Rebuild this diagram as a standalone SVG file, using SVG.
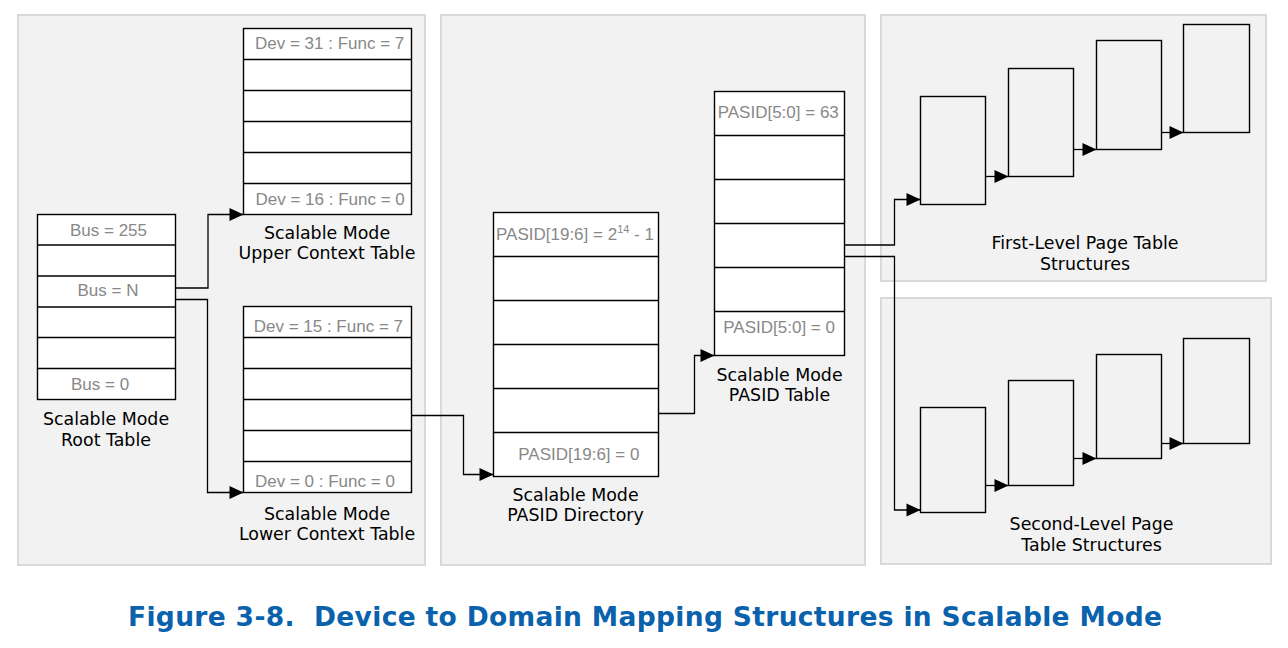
<svg xmlns="http://www.w3.org/2000/svg" width="1288" height="648" viewBox="0 0 1288 648">
<defs>
<marker id="arr" markerUnits="userSpaceOnUse" markerWidth="15" markerHeight="14" refX="14" refY="7" orient="auto" overflow="visible">
<path d="M0,0.5 L14,7 L0,13.5 z" fill="#000"/>
</marker>
<style>
.panel{fill:#f2f2f2;stroke:#d9d9d9;stroke-width:2}
.tbl{fill:#fff;stroke:#000;stroke-width:1.4}
.row{stroke:#000;stroke-width:1.4}
.pg{fill:none;stroke:#000;stroke-width:1.4}
.conn{fill:none;stroke:#000;stroke-width:1.3;marker-end:url(#arr)}
.cell{font-family:"Liberation Sans",Arial,sans-serif;font-size:17px;fill:#888888}
.lbl{font-family:"DejaVu Sans",Verdana,sans-serif;font-size:17.4px;fill:#000;text-anchor:middle}
.title{font-family:"DejaVu Sans",Verdana,sans-serif;font-weight:bold;font-size:26.5px;fill:#0a62ad;white-space:pre}
</style>
</defs>
<rect class="panel" x="18" y="15" width="407" height="550"/>
<rect class="panel" x="441" y="15" width="424" height="550"/>
<rect class="panel" x="881" y="15" width="385" height="266"/>
<rect class="panel" x="881" y="298" width="390" height="266"/>

<g id="root-table">
<rect class="tbl" x="37.5" y="214.5" width="138" height="185"/>
<path class="row" d="M37.5,245H175.5M37.5,276H175.5M37.5,307H175.5M37.5,337.5H175.5M37.5,368.5H175.5"/>
<text class="cell" x="70" y="235.7">Bus = 255</text>
<text class="cell" x="77.5" y="296">Bus = N</text>
<text class="cell" x="71" y="390">Bus = 0</text>
<text class="lbl" x="106" y="425">Scalable Mode</text>
<text class="lbl" x="106" y="446">Root Table</text>
</g>

<g id="upper-context-table">
<rect class="tbl" x="243.5" y="28.5" width="168" height="186"/>
<path class="row" d="M243.5,59.5H411.5M243.5,90.5H411.5M243.5,121.5H411.5M243.5,152.5H411.5M243.5,183.5H411.5"/>
<text class="cell" x="255" y="49.3">Dev = 31 : Func = 7</text>
<text class="cell" x="255.5" y="204.7">Dev = 16 : Func = 0</text>
<text class="lbl" x="327" y="238.7">Scalable Mode</text>
<text class="lbl" x="327" y="259">Upper Context Table</text>
</g>

<g id="lower-context-table">
<rect class="tbl" x="243.5" y="306.5" width="168" height="186"/>
<path class="row" d="M243.5,337.5H411.5M243.5,368.5H411.5M243.5,399.5H411.5M243.5,430.5H411.5M243.5,461.5H411.5"/>
<text class="cell" x="253.7" y="332">Dev = 15 : Func = 7</text>
<text class="cell" x="255" y="486.5">Dev = 0 : Func = 0</text>
<text class="lbl" x="327" y="520">Scalable Mode</text>
<text class="lbl" x="327" y="540">Lower Context Table</text>
</g>

<g id="pasid-directory">
<rect class="tbl" x="493.5" y="212.5" width="165" height="264"/>
<path class="row" d="M493.5,256.5H658.5M493.5,300.5H658.5M493.5,344.5H658.5M493.5,388.5H658.5M493.5,432.5H658.5"/>
<text class="cell" x="496" y="240.3">PASID[19:6] = 2<tspan font-size="11" dy="-7">14</tspan><tspan dy="7"> - 1</tspan></text>
<text class="cell" x="518.3" y="460">PASID[19:6] = 0</text>
<text class="lbl" x="575.5" y="501">Scalable Mode</text>
<text class="lbl" x="575.5" y="521">PASID Directory</text>
</g>

<g id="pasid-table">
<rect class="tbl" x="714.5" y="91.5" width="130" height="264"/>
<path class="row" d="M714.5,135.5H844.5M714.5,179.5H844.5M714.5,223.5H844.5M714.5,267.5H844.5M714.5,311.5H844.5"/>
<text class="cell" x="717.7" y="118.3">PASID[5:0] = 63</text>
<text class="cell" x="723.3" y="333.3">PASID[5:0] = 0</text>
<text class="lbl" x="779.5" y="381">Scalable Mode</text>
<text class="lbl" x="779.5" y="401">PASID Table</text>
</g>

<g id="first-level">
<rect class="pg" x="920.5" y="96.5" width="65" height="108"/>
<rect class="pg" x="1008.5" y="68.5" width="65" height="108"/>
<rect class="pg" x="1096.5" y="40.5" width="65" height="109"/>
<rect class="pg" x="1183.5" y="24.5" width="66" height="108"/>
<text class="lbl" x="1085" y="249">First-Level Page Table</text>
<text class="lbl" x="1085" y="269.5">Structures</text>
</g>

<g id="second-level">
<rect class="pg" x="920.5" y="407.5" width="65" height="105"/>
<rect class="pg" x="1008.5" y="380.5" width="65" height="105"/>
<rect class="pg" x="1096.5" y="354.5" width="65" height="104"/>
<rect class="pg" x="1183.5" y="338.5" width="66" height="105"/>
<text class="lbl" x="1091.5" y="530">Second-Level Page</text>
<text class="lbl" x="1091.5" y="550.5">Table Structures</text>
</g>

<g id="connectors">
<path class="conn" d="M175.5,288H208V214.5H243.5"/>
<path class="conn" d="M175.5,299.5H207.5V492.5H243.5"/>
<path class="conn" d="M411.5,415.5H463.5V474.5H493.5"/>
<path class="conn" d="M658.5,413.5H694.5V355.5H714.5"/>
<path class="conn" d="M844.5,245H894.5V199.5H920.5"/>
<path class="conn" d="M844.5,256.5H894.5V510H920.5"/>
<path class="conn" d="M985.5,176.5H1008.5"/>
<path class="conn" d="M1073.5,149.5H1096.5"/>
<path class="conn" d="M1161.5,132.5H1183.5"/>
<path class="conn" d="M985.5,485.5H1008.5"/>
<path class="conn" d="M1073.5,458.5H1096.5"/>
<path class="conn" d="M1161.5,443.5H1183.5"/>
</g>

<text class="title" x="128" y="625.7" textLength="1034" lengthAdjust="spacing">Figure 3-8.  Device to Domain Mapping Structures in Scalable Mode</text>
</svg>
